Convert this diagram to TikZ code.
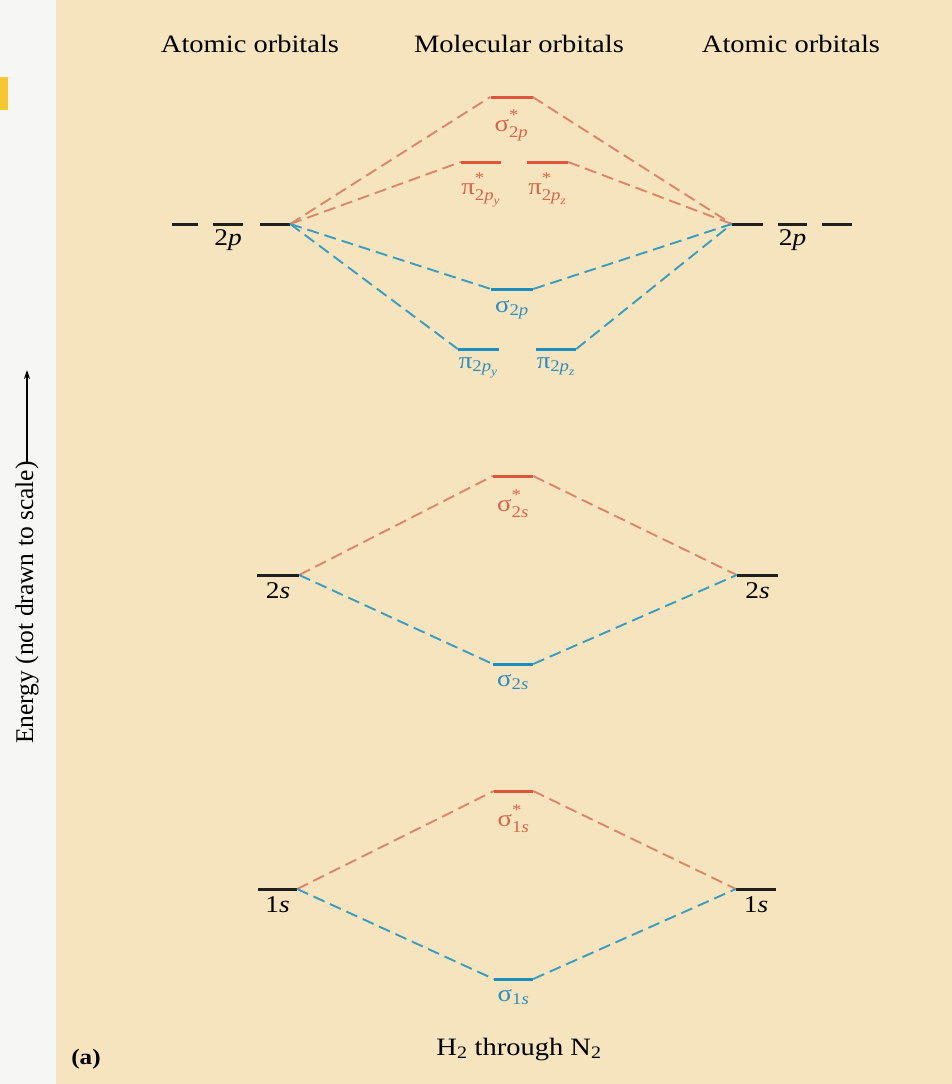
\documentclass[tikz,border=0pt]{standalone}
\usepackage{amsmath}
\usepackage{fontspec}
\setmainfont{Liberation Serif}[FakeStretch=1.14]
\newfontfamily\axisfont{Liberation Serif}
\usetikzlibrary{arrows.meta}

\definecolor{paper}{HTML}{F6E4BE}
\definecolor{margin}{HTML}{F6F6F4}
\definecolor{tab}{HTML}{F5C832}
\definecolor{levR}{HTML}{E0553A}
\definecolor{dashR}{HTML}{D9866A}
\definecolor{txtR}{HTML}{D9644A}
\definecolor{levB}{HTML}{1C8DBF}
\definecolor{dashB}{HTML}{3A9CBE}
\definecolor{txtB}{HTML}{2E8CBE}

% orbital labels: sigma/pi with optional star and subscripts
\newcommand\orbStar{\text{\raisebox{1.5pt}{*}}}
\newcommand\orbS[2]{$\text{#1}_{\text{#2}}$}
\newcommand\orbSs[2]{$\text{#1}^{\orbStar}_{\text{#2}}$}
\newcommand\orbP[2]{$\text{#1}_{\text{2\textit{p}}_{\text{\textit{#2}}}}$}
\newcommand\orbPs[2]{$\text{#1}^{\orbStar}_{\text{2\textit{p}}_{\text{\textit{#2}}}}$}

\tikzset{
  lvl/.style={inner sep=0pt, minimum height=3pt, minimum width=#1, draw=none},
  atomlev/.style={lvl=#1, fill=black!88},
  antilev/.style={lvl=#1, fill=levR},
  bondlev/.style={lvl=#1, fill=levB},
  rdash/.style={draw=dashR, line width=1.9pt, dash pattern=on 12pt off 6pt},
  bdash/.style={draw=dashB, line width=1.9pt, dash pattern=on 12pt off 6pt},
  hdr/.style={font=\fontsize{25}{30}\selectfont, anchor=base},
  lbl/.style={font=\fontsize{23.5}{28}\selectfont, anchor=base},
  albl/.style={font=\fontsize{24}{28}\selectfont, anchor=base},
}

\begin{document}
\begin{tikzpicture}[x=1pt, y=-1pt]
  \useasboundingbox (0,0) rectangle (952,1084);
  % page background
  \fill[margin] (0,0) rectangle (952,1084);
  \fill[paper] (56,0) rectangle (952,1084);
  \fill[tab] (0,77) rectangle (8,110);

  % headings
  \node[hdr] (hA) at (250,52) {Atomic orbitals};
  \node[hdr] (hM) at (519,52) {Molecular orbitals};
  \node[hdr] (hB) at (791,52) {Atomic orbitals};

  % energy axis
  \node[rotate=90, anchor=east, inner sep=0pt, font=\axisfont\fontsize{25.5}{30}\selectfont] (eaxis) at (27,461) {Energy (not drawn to scale)};
  \coordinate (etip) at (27,370);
  \draw[line width=1.1pt, -{Stealth[length=9pt, width=6pt]}] ([yshift=-3pt]eaxis.east) -- (etip);

  % atomic levels
  \node[atomlev=26pt] (L2pa) at (184.5,224) {};
  \node[atomlev=30pt] (L2pb) at (228,224) {};
  \node[atomlev=30pt] (L2pc) at (275,224) {};
  \node[atomlev=31pt] (R2pa) at (747.5,224) {};
  \node[atomlev=29pt] (R2pb) at (792.5,224) {};
  \node[atomlev=30pt] (R2pc) at (837,224) {};
  \node[atomlev=42pt] (L2s) at (278,575) {};
  \node[atomlev=41pt] (R2s) at (757.5,575) {};
  \node[atomlev=39pt] (L1s) at (277.5,889) {};
  \node[atomlev=40pt] (R1s) at (756,889) {};

  % molecular levels
  \node[antilev=42pt] (s2pA) at (511.5,97) {};
  \node[antilev=40pt] (pyA) at (481,162) {};
  \node[antilev=41pt] (pzA) at (547.5,162) {};
  \node[bondlev=42pt] (s2p) at (512,289) {};
  \node[bondlev=41pt] (py) at (478.5,349) {};
  \node[bondlev=40pt] (pz) at (556,349) {};
  \node[antilev=40pt] (s2sA) at (513,476) {};
  \node[bondlev=40pt] (s2s) at (513,664) {};
  \node[antilev=39pt] (s1sA) at (513.5,791) {};
  \node[bondlev=39pt] (s1s) at (513.5,979) {};

  % correlation lines, 2p
  \draw[rdash] (L2pc.east) -- (s2pA.west);
  \draw[rdash] (s2pA.east) -- (R2pa.west);
  \draw[rdash] (L2pc.east) -- (pyA.west);
  \draw[rdash] (pzA.east) -- (R2pa.west);
  \draw[bdash] (L2pc.east) -- (s2p.west);
  \draw[bdash] (s2p.east) -- (R2pa.west);
  \draw[bdash] (L2pc.east) -- (py.west);
  \draw[bdash] (pz.east) -- (R2pa.west);
  % correlation lines, 2s
  \draw[rdash] (L2s.east) -- (s2sA.west);
  \draw[rdash] (s2sA.east) -- (R2s.west);
  \draw[bdash] (L2s.east) -- (s2s.west);
  \draw[bdash] (s2s.east) -- (R2s.west);
  % correlation lines, 1s
  \draw[rdash] (L1s.east) -- (s1sA.west);
  \draw[rdash] (s1sA.east) -- (R1s.west);
  \draw[bdash] (L1s.east) -- (s1s.west);
  \draw[bdash] (s1s.east) -- (R1s.west);

  % atomic labels
  \node[albl] (tL2p) at ([yshift=-21pt]L2pb.center) {2\textit{p}};
  \node[albl] (tR2p) at ([yshift=-21pt]R2pb.center) {2\textit{p}};
  \node[albl] (tL2s) at ([yshift=-23pt]L2s.center) {2\textit{s}};
  \node[albl] (tR2s) at ([yshift=-23pt]R2s.center) {2\textit{s}};
  \node[albl] (tL1s) at ([yshift=-23pt]L1s.center) {1\textit{s}};
  \node[albl] (tR1s) at ([yshift=-23pt]R1s.center) {1\textit{s}};

  % molecular labels
  \node[lbl, txtR] (ts2pA) at ([yshift=-34pt]s2pA.center) {\orbSs{σ}{2\textit{p}}};
  \node[lbl, txtR] (tpyA) at ([yshift=-32pt]pyA.center) {\orbPs{π}{y}};
  \node[lbl, txtR] (tpzA) at ([yshift=-32pt]pzA.center) {\orbPs{π}{z}};
  \node[lbl, txtB] (ts2p) at ([yshift=-23pt]s2p.center) {\orbS{σ}{2\textit{p}}};
  \node[lbl, txtB] (tpy) at ([yshift=-19pt]py.center) {\orbP{π}{y}};
  \node[lbl, txtB] (tpz) at ([yshift=-19pt]pz.center) {\orbP{π}{z}};
  \node[lbl, txtR] (ts2sA) at ([yshift=-35pt]s2sA.center) {\orbSs{σ}{2\textit{s}}};
  \node[lbl, txtB] (ts2s) at ([yshift=-22pt]s2s.center) {\orbS{σ}{2\textit{s}}};
  \node[lbl, txtR] (ts1sA) at ([yshift=-35pt]s1sA.center) {\orbSs{σ}{1\textit{s}}};
  \node[lbl, txtB] (ts1s) at ([yshift=-22pt]s1s.center) {\orbS{σ}{1\textit{s}}};

  % caption
  \node[hdr, font=\fontsize{25}{30}\selectfont] (cap) at (519,1055) {H\textsubscript{2} through N\textsubscript{2}};
  \node[hdr, font=\fontsize{22}{26}\selectfont\bfseries] (tag) at (86,1064) {(a)};
\end{tikzpicture}
\end{document}
